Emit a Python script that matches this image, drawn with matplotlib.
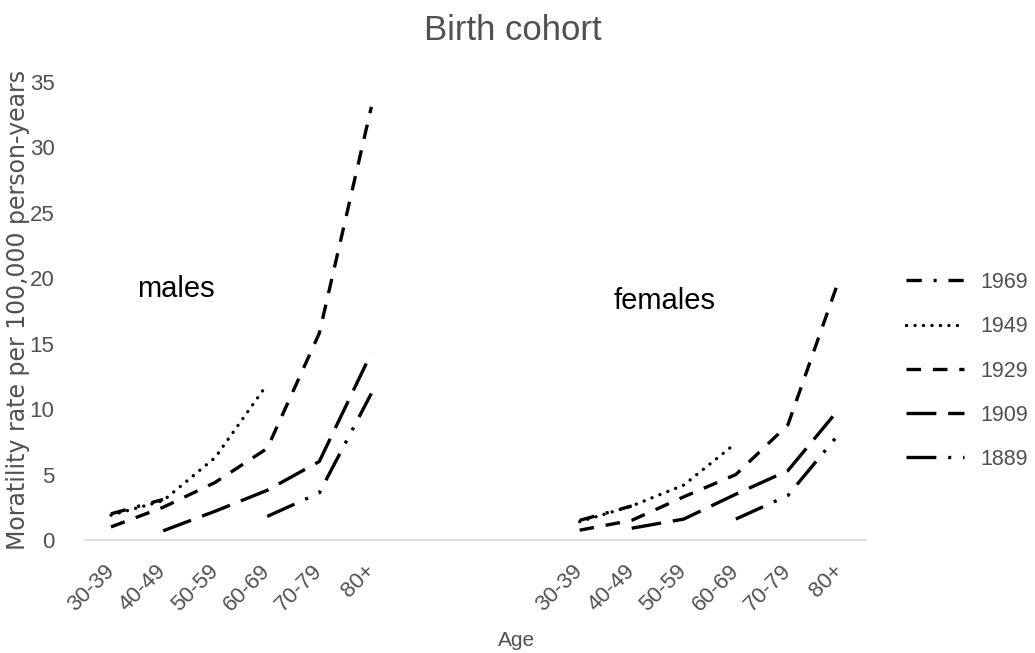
import numpy as np
import matplotlib
matplotlib.use('Agg')
import matplotlib.pyplot as plt
from matplotlib import font_manager

''' Data read off the chart '''
ages = ['30-39', '40-49', '50-59', '60-69', '70-79', '80+']
cohorts = ['1969', '1949', '1929', '1909', '1889']
nan = np.nan

males = {
    '1969': [2.0, 3.1, nan, nan, nan, nan],
    '1949': [1.9, 3.0, 6.3, 11.9, nan, nan],
    '1929': [1.0, 2.5, 4.4, 7.0, 15.8, 33.1],
    '1909': [nan, 0.7, 2.2, 3.8, 6.0, 14.3],
    '1889': [nan, nan, nan, 1.8, 3.6, 11.2],
}
females = {
    '1969': [1.5, 2.6, nan, nan, nan, nan],
    '1949': [1.4, 2.6, 4.2, 7.4, nan, nan],
    '1929': [0.75, 1.5, 3.3, 5.0, 8.8, 20.1],
    '1909': [nan, 0.9, 1.6, 3.5, 5.3, 10.1],
    '1889': [nan, nan, nan, 1.6, 3.4, 8.2],
}

''' Styles '''
installed = {f.name for f in font_manager.fontManager.ttflist}
narrow = 'Liberation Sans Narrow' if 'Liberation Sans Narrow' in installed else 'Liberation Sans'
plt.rcParams['font.family'] = [narrow, 'DejaVu Sans']
plt.rcParams['lines.scale_dashes'] = False

grey = '#505050'
styles = {
    '1969': dict(dashes=(11, 8.5, 2.2, 8.5)),
    '1949': dict(dashes=(0.1, 6), dash_capstyle='round'),
    '1929': dict(dashes=(10.5, 8.5)),
    '1909': dict(dashes=(21.5, 8.5)),
    '1889': dict(dashes=(21.5, 8.5, 2.2, 8.5, 2.2, 8.5)),
}

fig = plt.figure(figsize=(10.35, 6.53), dpi=100)
ax = fig.add_axes([85 / 1035, 1 - 540 / 653, 781 / 1035, 458 / 653])

gap = 3  # empty categories between the two panels
x_m = np.arange(len(ages))
x_f = x_m + len(ages) + gap

for c in cohorts:
    ax.plot(x_m, males[c], color='black', lw=2.4, label=c, **styles[c])
    ax.plot(x_f, females[c], color='black', lw=2.4, **styles[c])

ax.set_xlim(-0.5, x_f[-1] + 0.5)
ax.set_ylim(0, 35)
ax.set_yticks(np.arange(0, 36, 5))
ax.set_xticks(np.concatenate([x_m, x_f]))
ax.set_xticklabels(ages + ages, rotation=45, ha='right', va='center',
                   rotation_mode='anchor', fontsize=16, color=grey)
ax.tick_params(axis='x', length=0, pad=20)
ax.tick_params(axis='y', length=0, pad=22, labelsize=16, labelcolor=grey)

for s in ['top', 'right', 'left']:
    ax.spines[s].set_visible(False)
ax.spines['bottom'].set_color('#d9d9d9')
ax.spines['bottom'].set_linewidth(1.2)

ax.text(0.5, 19.2, 'males', fontsize=21, color='black', va='center', ha='left')
ax.text(9.66, 18.3, 'females', fontsize=21, color='black', va='center', ha='left')

fig.text(513 / 1035, 1 - 30 / 653, 'Birth cohort', fontsize=25, color=grey,
         ha='center', va='center')
fig.text(517 / 1035, 1 - 640 / 653, 'Age', fontsize=15, color=grey,
         ha='center', va='center')
fig.text(18 / 1035, 1 - 310 / 653, 'Moratility rate per 100,000 person-years',
         rotation=90, fontsize=17, color=grey, ha='center', va='center',
         family='DejaVu Sans')

leg = ax.legend(loc='upper left', bbox_to_anchor=(906 / 1035, 1 - 272 / 653),
                bbox_transform=fig.transFigure, frameon=False, fontsize=15.5,
                handlelength=2.7, handletextpad=0.75, labelspacing=1.08,
                borderpad=0, borderaxespad=0)
for t in leg.get_texts():
    t.set_color(grey)

fig.savefig('out.png', dpi=100)
